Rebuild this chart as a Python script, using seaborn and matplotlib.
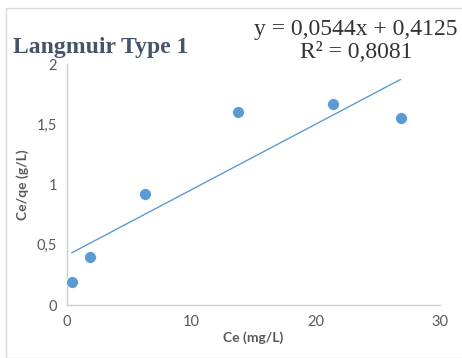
import matplotlib
matplotlib.use("Agg")
import matplotlib.pyplot as plt
import seaborn as sns
import numpy as np
import pandas as pd
from matplotlib.patches import Rectangle

# Data
ce = [0.38, 1.85, 6.27, 13.78, 21.43, 26.84]
ce_qe = [0.19, 0.40, 0.92, 1.60, 1.67, 1.55]
slope = 0.0544
intercept = 0.4125
r2 = 0.8081
x_ticks = [0, 10, 20, 30]
x_tick_labels = ["0", "10", "20", "30"]
y_ticks = [0, 0.5, 1, 1.5, 2]
y_tick_labels = ["0", "0,5", "1", "1,5", "2"]

sns.set_theme(style="white")
plt.rcParams['font.family'] = ['Lato', 'DejaVu Sans']

blue = "#5B9BD5"
gray = "#595959"

fig = plt.figure(figsize=(4.62, 3.58), dpi=100)
ax = fig.add_axes([0.145, 0.148, 0.807, 0.673])

df = pd.DataFrame({"Ce": ce, "Ce/qe": ce_qe})
trend_x = [min(ce), max(ce)]
trend = pd.DataFrame({"x": trend_x, "y": [slope * v + intercept for v in trend_x]})
sns.lineplot(data=trend, x="x", y="y", ax=ax, color=blue, linewidth=1.0)
sns.scatterplot(data=df, x="Ce", y="Ce/qe", ax=ax, color=blue, s=75, edgecolor="white", linewidth=0.6, zorder=3)

ax.set_xlim(0, 30)
ax.set_ylim(0, 2)
ax.set_xticks(x_ticks)
ax.set_xticklabels(x_tick_labels)
ax.set_yticks(y_ticks)
ax.set_yticklabels(y_tick_labels)
ax.tick_params(axis="both", length=0, labelsize=10.5, colors=gray, pad=7)
for s in ["top", "right"]:
    ax.spines[s].set_visible(False)
for s in ["left", "bottom"]:
    ax.spines[s].set_color("#C5CEDB")
    ax.spines[s].set_linewidth(1.0)

ax.set_xlabel("Ce (mg/L)", fontsize=10, fontweight="bold", color=gray, labelpad=2)
ax.set_ylabel("Ce/qe (g/L)", fontsize=10, fontweight="bold", color=gray, labelpad=6)

fig.text(13/462, 1 - 47/358, "Langmuir Type 1", family=["Liberation Serif", "DejaVu Serif"],
         weight="bold", fontsize=17, color="#44546A", ha="left", va="center")
fig.text(356/462, 1 - 41/358, f"y = {slope:.4f}x + {intercept:.4f}\nR² = {r2:.4f}".replace(".", ","),
         family=["Liberation Serif", "DejaVu Serif"], fontsize=17, color="#333333", ha="center", va="center",
         linespacing=1.12)

fig.patches.append(Rectangle((6/462, 0), 1, 1 - 8/358, transform=fig.transFigure,
                             fill=False, edgecolor="#D9D9D9", linewidth=1.0))

fig.savefig("out.png", dpi=100)
